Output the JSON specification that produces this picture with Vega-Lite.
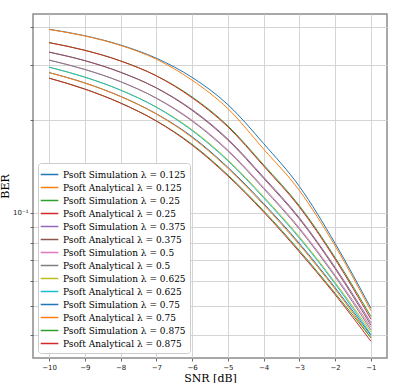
{
  "$schema": "https://vega.github.io/schema/vega-lite/v6.json",
  "width": 354,
  "height": 344,
  "autosize": {"type": "none"},
  "padding": {"left": 33, "top": 14, "right": 8, "bottom": 25},
  "background": "white",
  "data": {"values": [
    {"snr": -10, "ber": 0.3931, "series": "Psoft Simulation λ = 0.125"},
    {"snr": -9, "ber": 0.3746, "series": "Psoft Simulation λ = 0.125"},
    {"snr": -8, "ber": 0.3495, "series": "Psoft Simulation λ = 0.125"},
    {"snr": -7, "ber": 0.3167, "series": "Psoft Simulation λ = 0.125"},
    {"snr": -6, "ber": 0.2745, "series": "Psoft Simulation λ = 0.125"},
    {"snr": -5, "ber": 0.2240, "series": "Psoft Simulation λ = 0.125"},
    {"snr": -4, "ber": 0.1675, "series": "Psoft Simulation λ = 0.125"},
    {"snr": -3, "ber": 0.1216, "series": "Psoft Simulation λ = 0.125"},
    {"snr": -2, "ber": 0.0795, "series": "Psoft Simulation λ = 0.125"},
    {"snr": -1, "ber": 0.0490, "series": "Psoft Simulation λ = 0.125"},
    {"snr": -10, "ber": 0.3926, "series": "Psoft Analytical λ = 0.125"},
    {"snr": -9, "ber": 0.3740, "series": "Psoft Analytical λ = 0.125"},
    {"snr": -8, "ber": 0.3484, "series": "Psoft Analytical λ = 0.125"},
    {"snr": -7, "ber": 0.3144, "series": "Psoft Analytical λ = 0.125"},
    {"snr": -6, "ber": 0.2688, "series": "Psoft Analytical λ = 0.125"},
    {"snr": -5, "ber": 0.2174, "series": "Psoft Analytical λ = 0.125"},
    {"snr": -4, "ber": 0.1607, "series": "Psoft Analytical λ = 0.125"},
    {"snr": -3, "ber": 0.1180, "series": "Psoft Analytical λ = 0.125"},
    {"snr": -2, "ber": 0.0780, "series": "Psoft Analytical λ = 0.125"},
    {"snr": -1, "ber": 0.0481, "series": "Psoft Analytical λ = 0.125"},
    {"snr": -10, "ber": 0.3560, "series": "Psoft Simulation λ = 0.25"},
    {"snr": -9, "ber": 0.3362, "series": "Psoft Simulation λ = 0.25"},
    {"snr": -8, "ber": 0.3105, "series": "Psoft Simulation λ = 0.25"},
    {"snr": -7, "ber": 0.2780, "series": "Psoft Simulation λ = 0.25"},
    {"snr": -6, "ber": 0.2372, "series": "Psoft Simulation λ = 0.25"},
    {"snr": -5, "ber": 0.1912, "series": "Psoft Simulation λ = 0.25"},
    {"snr": -4, "ber": 0.1429, "series": "Psoft Simulation λ = 0.25"},
    {"snr": -3, "ber": 0.1053, "series": "Psoft Simulation λ = 0.25"},
    {"snr": -2, "ber": 0.0715, "series": "Psoft Simulation λ = 0.25"},
    {"snr": -1, "ber": 0.0461, "series": "Psoft Simulation λ = 0.25"},
    {"snr": -10, "ber": 0.3557, "series": "Psoft Analytical λ = 0.25"},
    {"snr": -9, "ber": 0.3359, "series": "Psoft Analytical λ = 0.25"},
    {"snr": -8, "ber": 0.3102, "series": "Psoft Analytical λ = 0.25"},
    {"snr": -7, "ber": 0.2776, "series": "Psoft Analytical λ = 0.25"},
    {"snr": -6, "ber": 0.2358, "series": "Psoft Analytical λ = 0.25"},
    {"snr": -5, "ber": 0.1898, "series": "Psoft Analytical λ = 0.25"},
    {"snr": -4, "ber": 0.1416, "series": "Psoft Analytical λ = 0.25"},
    {"snr": -3, "ber": 0.1043, "series": "Psoft Analytical λ = 0.25"},
    {"snr": -2, "ber": 0.0707, "series": "Psoft Analytical λ = 0.25"},
    {"snr": -1, "ber": 0.0452, "series": "Psoft Analytical λ = 0.25"},
    {"snr": -10, "ber": 0.3316, "series": "Psoft Simulation λ = 0.375"},
    {"snr": -9, "ber": 0.3112, "series": "Psoft Simulation λ = 0.375"},
    {"snr": -8, "ber": 0.2854, "series": "Psoft Simulation λ = 0.375"},
    {"snr": -7, "ber": 0.2540, "series": "Psoft Simulation λ = 0.375"},
    {"snr": -6, "ber": 0.2159, "series": "Psoft Simulation λ = 0.375"},
    {"snr": -5, "ber": 0.1733, "series": "Psoft Simulation λ = 0.375"},
    {"snr": -4, "ber": 0.1304, "series": "Psoft Simulation λ = 0.375"},
    {"snr": -3, "ber": 0.0963, "series": "Psoft Simulation λ = 0.375"},
    {"snr": -2, "ber": 0.0665, "series": "Psoft Simulation λ = 0.375"},
    {"snr": -1, "ber": 0.0440, "series": "Psoft Simulation λ = 0.375"},
    {"snr": -10, "ber": 0.3314, "series": "Psoft Analytical λ = 0.375"},
    {"snr": -9, "ber": 0.3109, "series": "Psoft Analytical λ = 0.375"},
    {"snr": -8, "ber": 0.2851, "series": "Psoft Analytical λ = 0.375"},
    {"snr": -7, "ber": 0.2536, "series": "Psoft Analytical λ = 0.375"},
    {"snr": -6, "ber": 0.2146, "series": "Psoft Analytical λ = 0.375"},
    {"snr": -5, "ber": 0.1720, "series": "Psoft Analytical λ = 0.375"},
    {"snr": -4, "ber": 0.1292, "series": "Psoft Analytical λ = 0.375"},
    {"snr": -3, "ber": 0.0954, "series": "Psoft Analytical λ = 0.375"},
    {"snr": -2, "ber": 0.0658, "series": "Psoft Analytical λ = 0.375"},
    {"snr": -1, "ber": 0.0432, "series": "Psoft Analytical λ = 0.375"},
    {"snr": -10, "ber": 0.3125, "series": "Psoft Simulation λ = 0.5"},
    {"snr": -9, "ber": 0.2914, "series": "Psoft Simulation λ = 0.5"},
    {"snr": -8, "ber": 0.2660, "series": "Psoft Simulation λ = 0.5"},
    {"snr": -7, "ber": 0.2353, "series": "Psoft Simulation λ = 0.5"},
    {"snr": -6, "ber": 0.1993, "series": "Psoft Simulation λ = 0.5"},
    {"snr": -5, "ber": 0.1596, "series": "Psoft Simulation λ = 0.5"},
    {"snr": -4, "ber": 0.1207, "series": "Psoft Simulation λ = 0.5"},
    {"snr": -3, "ber": 0.0893, "series": "Psoft Simulation λ = 0.5"},
    {"snr": -2, "ber": 0.0627, "series": "Psoft Simulation λ = 0.5"},
    {"snr": -1, "ber": 0.0425, "series": "Psoft Simulation λ = 0.5"},
    {"snr": -10, "ber": 0.3123, "series": "Psoft Analytical λ = 0.5"},
    {"snr": -9, "ber": 0.2911, "series": "Psoft Analytical λ = 0.5"},
    {"snr": -8, "ber": 0.2657, "series": "Psoft Analytical λ = 0.5"},
    {"snr": -7, "ber": 0.2349, "series": "Psoft Analytical λ = 0.5"},
    {"snr": -6, "ber": 0.1981, "series": "Psoft Analytical λ = 0.5"},
    {"snr": -5, "ber": 0.1584, "series": "Psoft Analytical λ = 0.5"},
    {"snr": -4, "ber": 0.1196, "series": "Psoft Analytical λ = 0.5"},
    {"snr": -3, "ber": 0.0884, "series": "Psoft Analytical λ = 0.5"},
    {"snr": -2, "ber": 0.0620, "series": "Psoft Analytical λ = 0.5"},
    {"snr": -1, "ber": 0.0417, "series": "Psoft Analytical λ = 0.5"},
    {"snr": -10, "ber": 0.2964, "series": "Psoft Simulation λ = 0.625"},
    {"snr": -9, "ber": 0.2752, "series": "Psoft Simulation λ = 0.625"},
    {"snr": -8, "ber": 0.2498, "series": "Psoft Simulation λ = 0.625"},
    {"snr": -7, "ber": 0.2200, "series": "Psoft Simulation λ = 0.625"},
    {"snr": -6, "ber": 0.1857, "series": "Psoft Simulation λ = 0.625"},
    {"snr": -5, "ber": 0.1483, "series": "Psoft Simulation λ = 0.625"},
    {"snr": -4, "ber": 0.1127, "series": "Psoft Simulation λ = 0.625"},
    {"snr": -3, "ber": 0.0835, "series": "Psoft Simulation λ = 0.625"},
    {"snr": -2, "ber": 0.0594, "series": "Psoft Simulation λ = 0.625"},
    {"snr": -1, "ber": 0.0411, "series": "Psoft Simulation λ = 0.625"},
    {"snr": -10, "ber": 0.2962, "series": "Psoft Analytical λ = 0.625"},
    {"snr": -9, "ber": 0.2749, "series": "Psoft Analytical λ = 0.625"},
    {"snr": -8, "ber": 0.2495, "series": "Psoft Analytical λ = 0.625"},
    {"snr": -7, "ber": 0.2196, "series": "Psoft Analytical λ = 0.625"},
    {"snr": -6, "ber": 0.1846, "series": "Psoft Analytical λ = 0.625"},
    {"snr": -5, "ber": 0.1472, "series": "Psoft Analytical λ = 0.625"},
    {"snr": -4, "ber": 0.1117, "series": "Psoft Analytical λ = 0.625"},
    {"snr": -3, "ber": 0.0827, "series": "Psoft Analytical λ = 0.625"},
    {"snr": -2, "ber": 0.0588, "series": "Psoft Analytical λ = 0.625"},
    {"snr": -1, "ber": 0.0403, "series": "Psoft Analytical λ = 0.625"},
    {"snr": -10, "ber": 0.2846, "series": "Psoft Simulation λ = 0.75"},
    {"snr": -9, "ber": 0.2634, "series": "Psoft Simulation λ = 0.75"},
    {"snr": -8, "ber": 0.2382, "series": "Psoft Simulation λ = 0.75"},
    {"snr": -7, "ber": 0.2092, "series": "Psoft Simulation λ = 0.75"},
    {"snr": -6, "ber": 0.1763, "series": "Psoft Simulation λ = 0.75"},
    {"snr": -5, "ber": 0.1403, "series": "Psoft Simulation λ = 0.75"},
    {"snr": -4, "ber": 0.1071, "series": "Psoft Simulation λ = 0.75"},
    {"snr": -3, "ber": 0.0795, "series": "Psoft Simulation λ = 0.75"},
    {"snr": -2, "ber": 0.0571, "series": "Psoft Simulation λ = 0.75"},
    {"snr": -1, "ber": 0.0400, "series": "Psoft Simulation λ = 0.75"},
    {"snr": -10, "ber": 0.2844, "series": "Psoft Analytical λ = 0.75"},
    {"snr": -9, "ber": 0.2631, "series": "Psoft Analytical λ = 0.75"},
    {"snr": -8, "ber": 0.2379, "series": "Psoft Analytical λ = 0.75"},
    {"snr": -7, "ber": 0.2088, "series": "Psoft Analytical λ = 0.75"},
    {"snr": -6, "ber": 0.1752, "series": "Psoft Analytical λ = 0.75"},
    {"snr": -5, "ber": 0.1393, "series": "Psoft Analytical λ = 0.75"},
    {"snr": -4, "ber": 0.1061, "series": "Psoft Analytical λ = 0.75"},
    {"snr": -3, "ber": 0.0787, "series": "Psoft Analytical λ = 0.75"},
    {"snr": -2, "ber": 0.0565, "series": "Psoft Analytical λ = 0.75"},
    {"snr": -1, "ber": 0.0393, "series": "Psoft Analytical λ = 0.75"},
    {"snr": -10, "ber": 0.2731, "series": "Psoft Simulation λ = 0.875"},
    {"snr": -9, "ber": 0.2517, "series": "Psoft Simulation λ = 0.875"},
    {"snr": -8, "ber": 0.2268, "series": "Psoft Simulation λ = 0.875"},
    {"snr": -7, "ber": 0.1985, "series": "Psoft Simulation λ = 0.875"},
    {"snr": -6, "ber": 0.1666, "series": "Psoft Simulation λ = 0.875"},
    {"snr": -5, "ber": 0.1325, "series": "Psoft Simulation λ = 0.875"},
    {"snr": -4, "ber": 0.1014, "series": "Psoft Simulation λ = 0.875"},
    {"snr": -3, "ber": 0.0754, "series": "Psoft Simulation λ = 0.875"},
    {"snr": -2, "ber": 0.0548, "series": "Psoft Simulation λ = 0.875"},
    {"snr": -1, "ber": 0.0393, "series": "Psoft Simulation λ = 0.875"},
    {"snr": -10, "ber": 0.2729, "series": "Psoft Analytical λ = 0.875"},
    {"snr": -9, "ber": 0.2514, "series": "Psoft Analytical λ = 0.875"},
    {"snr": -8, "ber": 0.2265, "series": "Psoft Analytical λ = 0.875"},
    {"snr": -7, "ber": 0.1981, "series": "Psoft Analytical λ = 0.875"},
    {"snr": -6, "ber": 0.1656, "series": "Psoft Analytical λ = 0.875"},
    {"snr": -5, "ber": 0.1315, "series": "Psoft Analytical λ = 0.875"},
    {"snr": -4, "ber": 0.1005, "series": "Psoft Analytical λ = 0.875"},
    {"snr": -3, "ber": 0.0746, "series": "Psoft Analytical λ = 0.875"},
    {"snr": -2, "ber": 0.0542, "series": "Psoft Analytical λ = 0.875"},
    {"snr": -1, "ber": 0.0383, "series": "Psoft Analytical λ = 0.875"}
  ]},
  "mark": {"type": "line", "strokeWidth": 1.0, "interpolate": "monotone", "clip": true},
  "encoding": {
    "x": {
      "field": "snr", "type": "quantitative",
      "scale": {"domain": [-10.45, -0.55], "nice": false, "zero": false},
      "axis": {"title": "SNR [dB]", "values": [-10, -9, -8, -7, -6, -5, -4, -3, -2, -1], "titlePadding": 2, "labelPadding": 2}
    },
    "y": {
      "field": "ber", "type": "quantitative",
      "scale": {"type": "log", "domain": [0.0338, 0.4406], "nice": false},
      "axis": {"title": "BER", "values": [0.04, 0.05, 0.06, 0.07, 0.08, 0.09, 0.1, 0.2, 0.3, 0.4], "labelExpr": "datum.value == 0.1 ? '10⁻¹' : ''", "titlePadding": 2, "labelPadding": 2}
    },
    "color": {
      "field": "series", "type": "nominal",
      "scale": {
        "domain": ["Psoft Simulation λ = 0.125", "Psoft Analytical λ = 0.125", "Psoft Simulation λ = 0.25", "Psoft Analytical λ = 0.25", "Psoft Simulation λ = 0.375", "Psoft Analytical λ = 0.375", "Psoft Simulation λ = 0.5", "Psoft Analytical λ = 0.5", "Psoft Simulation λ = 0.625", "Psoft Analytical λ = 0.625", "Psoft Simulation λ = 0.75", "Psoft Analytical λ = 0.75", "Psoft Simulation λ = 0.875", "Psoft Analytical λ = 0.875"],
        "range": ["#1f77b4", "#ff7f0e", "#2ca02c", "#d62728", "#9467bd", "#8c564b", "#e377c2", "#7f7f7f", "#bcbd22", "#17becf", "#1f77b4", "#ff7f0e", "#2ca02c", "#d62728"]
      },
      "legend": {"title": null, "orient": "bottom-left", "offset": 5, "zindex": 1}
    }
  },
  "config": {
    "view": {"stroke": "#8c8c8c", "strokeWidth": 1.5},
    "axis": {
      "grid": true, "gridColor": "#cfcfcf", "gridWidth": 0.9, "domain": false,
      "tickColor": "#444", "tickSize": 3, "tickWidth": 0.8,
      "labelFont": "DejaVu Sans", "labelFontSize": 7, "labelColor": "#222",
      "titleFont": "DejaVu Serif", "titleFontSize": 11, "titleFontWeight": "normal", "titleColor": "#000"
    },
    "legend": {
      "fillColor": "white", "strokeColor": "#cccccc", "cornerRadius": 3, "padding": 4,
      "labelFont": "DejaVu Serif", "labelFontSize": 9, "labelColor": "#000", "labelLimit": 300,
      "symbolType": "M-1.35,0H1.35", "symbolStrokeWidth": 1.5, "symbolSize": 170, "symbolFillColor": "transparent", "rowPadding": 0, "labelOffset": 6
    }
  }
}
